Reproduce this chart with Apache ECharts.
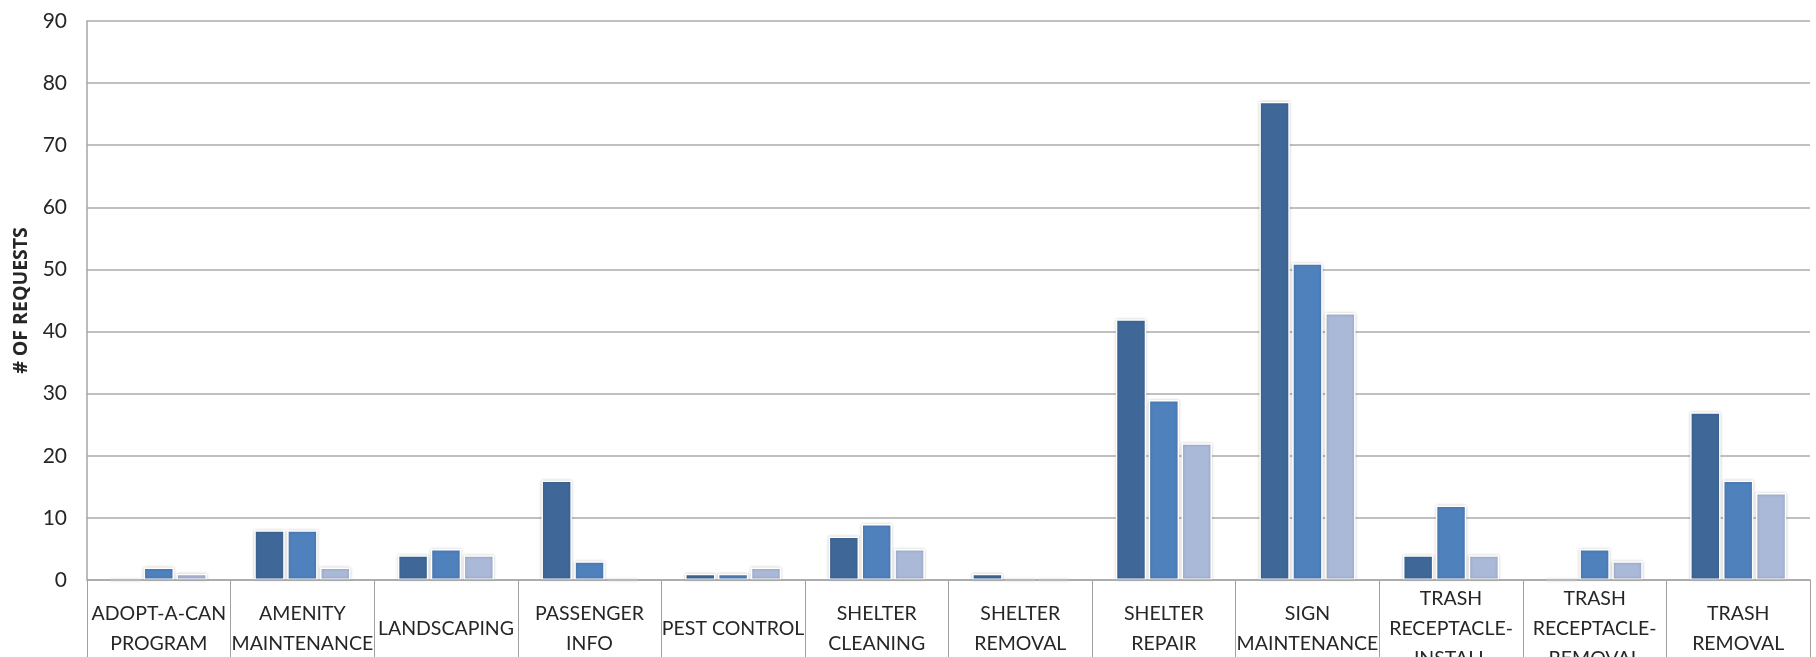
<!DOCTYPE html>
<html>
<head>
<meta charset="utf-8">
<script src="https://cdn.jsdelivr.net/npm/echarts@6/dist/echarts.min.js"></script>
<style>
  html, body { margin: 0; padding: 0; background: #ffffff; }
  #chart { width: 1816px; height: 657px; }
</style>
</head>
<body>
<div id="chart"></div>
<script>
// Request types (x categories)
const categories = [
  'ADOPT-A-CAN\nPROGRAM',
  'AMENITY\nMAINTENANCE',
  'LANDSCAPING',
  'PASSENGER\nINFO',
  'PEST CONTROL',
  'SHELTER\nCLEANING',
  'SHELTER\nREMOVAL',
  'SHELTER\nREPAIR',
  'SIGN\nMAINTENANCE',
  'TRASH\nRECEPTACLE-\nINSTALL',
  'TRASH\nRECEPTACLE-\nREMOVAL',
  'TRASH\nREMOVAL'
];

// Number of requests per type, three periods
const seriesA = [0, 8, 4, 16, 1, 7, 1, 42, 77, 4, 0, 27];
const seriesB = [2, 8, 5, 3, 1, 9, 0, 29, 51, 12, 5, 16];
const seriesC = [1, 2, 4, 0, 2, 5, 0, 22, 43, 4, 3, 14];

const yTicks = { min: 0, max: 90, interval: 10 };

const labelFont = 'Lato, "Noto Sans", sans-serif';
const tickFont = 'Lato, "Noto Sans", sans-serif';
const nameFont = '"Open Sans", "Noto Sans", sans-serif';
const colors = ['#3f6899', '#4f81bd', '#aab9d8'];

function barSeries(data, color) {
  return {
    type: 'bar',
    data: data,
    barGap: '8%',
    barCategoryGap: '33%',
    itemStyle: {
      color: color,
      borderColor: '#ffffff',
      borderWidth: 1.5,
      shadowColor: 'rgba(0,0,0,0.22)',
      shadowBlur: 3
    }
  };
}

const chart = echarts.init(document.getElementById('chart'), null, { renderer: 'canvas' });
chart.setOption({
  backgroundColor: '#ffffff',
  animation: false,
  grid: { left: 87, right: 6, top: 21, bottom: 77, containLabel: false, outerBoundsMode: 'none' },
  xAxis: {
    type: 'category',
    data: categories,
    z: 3,
    axisLine: { show: true, lineStyle: { color: '#a6a6a6', width: 1.5 } },
    axisTick: { show: true, length: 80, lineStyle: { color: '#a0a0a0', width: 1 } },
    axisLabel: {
      interval: 0,
      margin: 49,
      verticalAlign: 'middle',
      fontFamily: labelFont,
      fontSize: 19.5,
      lineHeight: 30,
      color: '#262626'
    }
  },
  yAxis: {
    type: 'value',
    min: yTicks.min,
    max: yTicks.max,
    interval: yTicks.interval,
    name: '# OF REQUESTS',
    nameLocation: 'middle',
    nameGap: 56,
    nameMoveOverlap: false,
    nameTextStyle: {
      fontFamily: nameFont,
      fontWeight: 'bold',
      fontSize: 19.5,
      color: '#262626'
    },
    axisLine: { show: true, lineStyle: { color: '#a6a6a6', width: 1.5 } },
    axisTick: { show: false },
    splitLine: { show: true, lineStyle: { color: '#ababab', width: 1.5 } },
    axisLabel: {
      margin: 20,
      fontFamily: tickFont,
      fontSize: 21,
      color: '#262626'
    }
  },
  series: [
    barSeries(seriesA, colors[0]),
    barSeries(seriesB, colors[1]),
    barSeries(seriesC, colors[2])
  ]
});
</script>
</body>
</html>
